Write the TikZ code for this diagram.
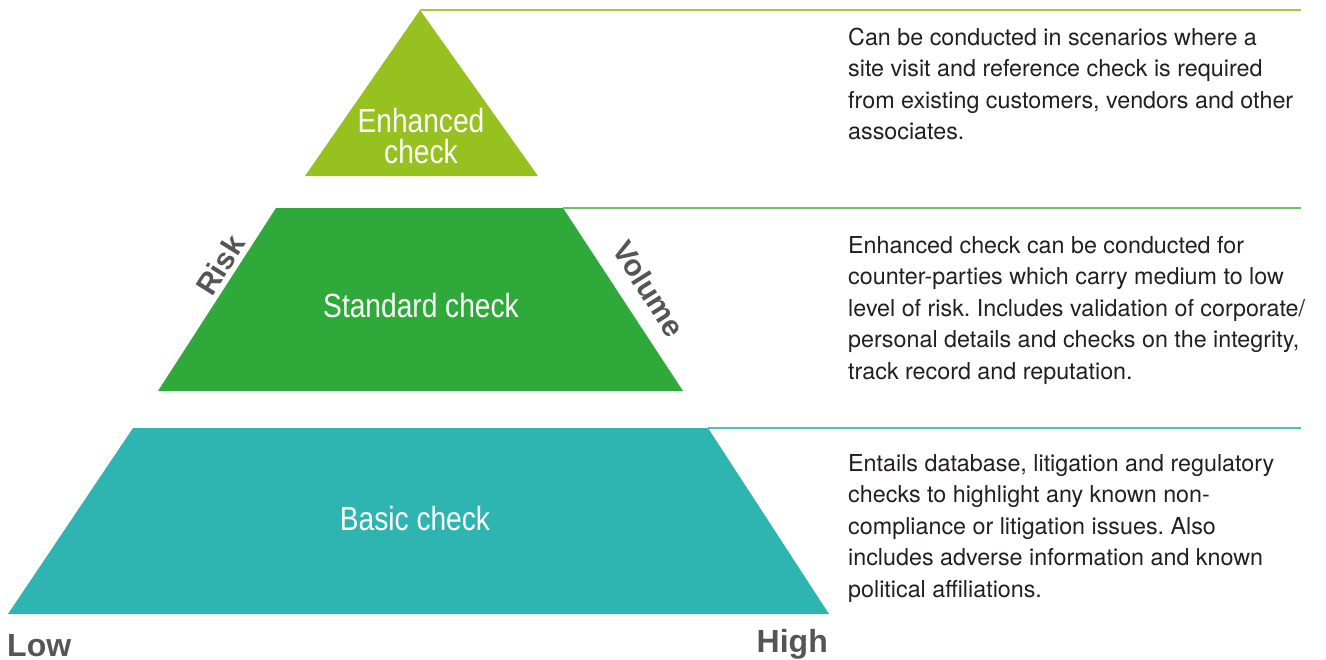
\documentclass[tikz,border=0pt]{standalone}
\usepackage{fontspec}
\setmainfont{TeX Gyre Heros}
\newfontfamily\condfont[FakeStretch=0.84]{Liberation Sans}
\newfontfamily\axisfont{Liberation Sans}
\frenchspacing

\definecolor{tiertop}{HTML}{96C11F}
\definecolor{tiermid}{HTML}{2EA93A}
\definecolor{tierbase}{HTML}{2EB4B1}
\definecolor{ruletop}{HTML}{A2C73A}
\definecolor{rulemid}{HTML}{6CC06E}
\definecolor{rulebase}{HTML}{4CC0BC}
\definecolor{bodytext}{HTML}{231F20}
\definecolor{axisgray}{HTML}{555555}

\tikzset{
  tierlabel/.style={anchor=base, inner sep=0pt, text=white,
    font=\condfont\fontsize{33.5}{31.5}\selectfont},
  desc/.style={anchor=base west, inner sep=0pt, text=bodytext,
    font=\fontsize{23.3}{31.6}\selectfont},
  axislabel/.style={inner sep=0pt, text=axisgray,
    font=\axisfont\bfseries\fontsize{30}{30}\selectfont},
  endlabel/.style={axislabel, font=\axisfont\bfseries\fontsize{32}{32}\selectfont},
  tierrule/.style={line width=1.5pt},
}

\begin{document}
\begin{tikzpicture}[x=1pt,y=-1pt]
\useasboundingbox (0,0) rectangle (1326,659);

% tier outlines
\coordinate (t1apex) at (420,10);
\coordinate (t1bl) at (305,176);
\coordinate (t1br) at (538,176);
\coordinate (t1end) at (1301,10);

\coordinate (t2tl) at (276,208);
\coordinate (t2tr) at (563,208);
\coordinate (t2br) at (683,391);
\coordinate (t2bl) at (158,391);
\coordinate (t2end) at (1301,208);

\coordinate (t3tl) at (133,428);
\coordinate (t3tr) at (708,428);
\coordinate (t3br) at (829,614);
\coordinate (t3bl) at (8,614);
\coordinate (t3end) at (1301,428);

\fill[tiertop] (t1apex) -- (t1br) -- (t1bl) -- cycle;
\fill[tiermid] (t2tl) -- (t2tr) -- (t2br) -- (t2bl) -- cycle;
\fill[tierbase] (t3tl) -- (t3tr) -- (t3br) -- (t3bl) -- cycle;

% guide rules towards the descriptions
\draw[tierrule, ruletop] (t1apex) -- (t1end);
\draw[tierrule, rulemid] (t2tr) -- (t2end);
\draw[tierrule, rulebase] (t3tr) -- (t3end);

% tier names
\node[tierlabel] (enh) at (421,132) {\parbox[t]{200pt}{\centering Enhanced\\check}};
\node[tierlabel] (std) at (421,317) {Standard check};
\node[tierlabel] (bas) at (415,530) {Basic check};

% axis words
\node[axislabel, rotate=58] (risk) at (220,265) {Risk};
\node[axislabel, rotate=-58] (vol) at (649,289) {Volume};
\node[endlabel, anchor=base west] (low) at (7,656) {Low};
\node[endlabel, anchor=base east] (high) at (828,652) {High};

% descriptions
\node[desc] (d1) at (848,45) {\parbox[t]{470pt}{\raggedright
Can be conducted in scenarios where a\\
site visit and reference check is required\\
from existing customers, vendors and other\\
associates.}};
\node[desc] (d2) at (848,253) {\parbox[t]{470pt}{\raggedright
Enhanced check can be conducted for\\
counter-parties which carry medium to low\\
level of risk. Includes validation of corporate/\\
personal details and checks on the integrity,\\
track record and reputation.}};
\node[desc] (d3) at (848,471) {\parbox[t]{470pt}{\raggedright
Entails database, litigation and regulatory\\
checks to highlight any known non-\\
compliance or litigation issues. Also\\
includes adverse information and known\\
political affiliations.}};
\end{tikzpicture}
\end{document}
